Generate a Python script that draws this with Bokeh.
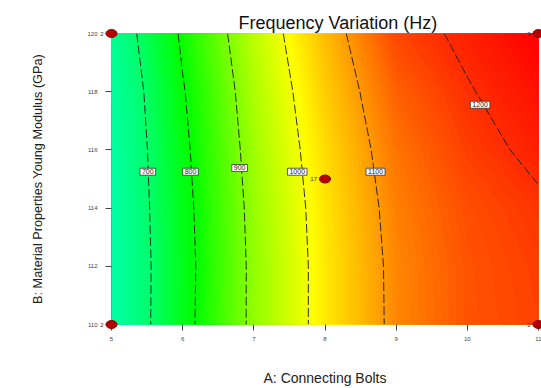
import colorsys
import numpy as np
from bokeh.plotting import figure
from bokeh.models import FixedTicker
from bokeh.core.properties import value
from bokeh.embed import file_html
from bokeh.resources import INLINE

# ---------------- data ----------------
title_text = "Frequency Variation (Hz)"
x_title = "A: Connecting Bolts"
y_title = "B: Material Properties Young Modulus (GPa)"

bolts = [5, 6, 7, 8, 9, 10, 11]                 # A: Connecting Bolts
modulus = [110, 112, 114, 116, 118, 120]        # B: Young Modulus (GPa)
# estimated frequency (Hz) at each (modulus row, bolts column)
freq_110 = [607, 776, 915, 1026, 1115, 1162, 1180]
freq_112 = [607, 774, 915, 1026, 1116, 1163, 1183]
freq_114 = [610, 778, 919, 1030, 1122, 1168, 1192]
freq_116 = [613, 785, 927, 1039, 1133, 1182, 1212]
freq_118 = [621, 795, 937, 1052, 1150, 1196, 1230]
freq_120 = [639, 811, 952, 1068, 1175, 1212, 1250]

contour_levels = [700, 800, 900, 1000, 1100, 1200]
contour_label_text = ["700", "800", "900", "1000", "1100", "1200"]
contour_label_x = [5.51, 6.11, 6.80, 7.61, 8.71, 10.18]
contour_label_y = [115.25, 115.25, 115.38, 115.25, 115.25, 117.55]

design_x = [5, 5, 11, 11, 8]
design_y = [110, 120, 110, 120, 115]
design_runs = ["2", "2", "2", "2", "17"]

x_ticks = [5, 6, 7, 8, 9, 10, 11]
y_ticks = [110, 112, 114, 116, 118, 120]

# ---------------- styling ----------------
FONT = "Liberation Sans"
z = np.array([freq_110, freq_112, freq_114, freq_116, freq_118, freq_120], dtype=float)

fill_levels = np.arange(590, 1275, 5)
top_level = 1300
stop_f = [590, 700, 800, 900, 1000, 1100, 1200, 1250]
stop_h = [162, 145, 120, 90, 62, 36, 10, 0]


def hue_color(f):
    h = float(np.interp(f, stop_f, stop_h)) / 360.0
    r, g, b = colorsys.hsv_to_rgb(h, 1.0, 1.0)
    return "#%02x%02x%02x" % (int(r * 255), int(g * 255), int(b * 255))


p = figure(width=541, height=388, output_backend="svg", toolbar_location=None,
           x_range=(5, 11), y_range=(110, 120),
           min_border_left=111, min_border_right=3, min_border_top=33, min_border_bottom=63)
p.background_fill_color = "white"
p.border_fill_color = "white"
p.outline_line_color = "#555555"
p.outline_line_width = 1
p.grid.visible = False

# stacked fills: each region f >= level drawn over the previous one (no seams)
for lev in fill_levels:
    p.contour(bolts, modulus, z, levels=[float(lev), float(top_level)],
              fill_color=hue_color(lev + 2.5), line_color=None)

p.contour(bolts, modulus, z, levels=contour_levels, line_color="#1a1a1a",
          line_width=0.9, line_dash="9 3")

p.text(contour_label_x, contour_label_y, text=contour_label_text,
       text_font=value(FONT), text_font_size="7px", text_color="#222222",
       text_align="center", text_baseline="middle",
       background_fill_color="white", border_line_color="#333333",
       border_line_width=0.8, padding=(2, 1))

pts = p.ellipse(design_x, design_y, width=11, height=8, width_units="screen",
                height_units="screen", fill_color="#b40000", line_color="#8a0000")
pts.level = "overlay"
lbl = p.text(design_x, design_y, text=design_runs, text_font=value(FONT), text_font_size="6px",
             text_color="#333333", text_align="right", text_baseline="middle", x_offset=-8)
lbl.level = "overlay"

p.title.text = title_text
p.title.align = "left"
p.title.offset = 127
p.title.text_font = FONT
p.title.text_font_size = "18px"
p.title.text_font_style = "normal"
p.title.text_color = "#111111"
p.title.standoff = 2

p.xaxis.ticker = FixedTicker(ticks=x_ticks)
p.yaxis.ticker = FixedTicker(ticks=y_ticks)
for ax in (p.xaxis[0], p.yaxis[0]):
    ax.axis_line_color = None
    ax.major_tick_line_color = "#444444"
    ax.major_tick_out = 6
    ax.major_tick_in = 0
    ax.minor_tick_line_color = None
    ax.major_label_text_font = FONT
    ax.major_label_text_font_size = "6px"
    ax.major_label_text_color = "#444444"
    ax.axis_label_text_font = FONT
    ax.axis_label_text_font_style = "normal"
    ax.axis_label_text_color = "#222222"
p.xaxis.axis_label_text_font_size = "14px"
p.yaxis.axis_label_text_font_size = "12.7px"
p.xaxis.axis_label = x_title
p.yaxis.axis_label = y_title
p.xaxis.major_label_standoff = 6
p.xaxis.axis_label_standoff = 26
p.yaxis.major_label_standoff = 8
p.yaxis.axis_label_standoff = 39

open("out.html", "w").write(file_html(p, INLINE))
